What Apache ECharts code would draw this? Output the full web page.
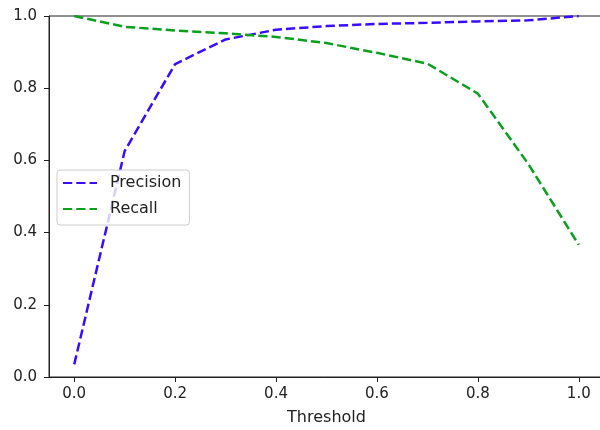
<!DOCTYPE html>
<html>
<head>
<meta charset="utf-8">
<script src="https://cdn.jsdelivr.net/npm/echarts@6/dist/echarts.min.js"></script>
<style>
  html, body { margin: 0; padding: 0; background: #fff; }
  #chart { width: 600px; height: 430px; }
</style>
</head>
<body>
<div id="chart"></div>
<script>
// Precision / recall as a function of the decision threshold
const thresholds = [0.0, 0.1, 0.2, 0.3, 0.4, 0.5, 0.6, 0.7, 0.8, 0.9, 1.0];
const precision  = [0.035, 0.626, 0.867, 0.935, 0.962, 0.972, 0.978, 0.981, 0.985, 0.988, 1.0];
const recall     = [1.0, 0.97, 0.96, 0.952, 0.942, 0.925, 0.898, 0.868, 0.785, 0.59, 0.366];
const xTicks = [0.0, 0.2, 0.4, 0.6, 0.8, 1.0];

const FONT = 'DejaVu Sans';
const dash = [9.25, 4];

const chart = echarts.init(document.getElementById('chart'), null, { renderer: 'canvas' });

chart.setOption({
  animation: false,
  backgroundColor: '#ffffff',
  // the plot box runs slightly past the right edge of the canvas
  grid: {
    left: 49, top: 16, width: 555, height: 361,
    outerBoundsMode: 'none',
    containLabel: false,
    show: true, borderColor: '#222', borderWidth: 1, backgroundColor: 'transparent'
  },
  legend: {
    orient: 'vertical',
    left: 57, top: 170,
    padding: [5, 8, 8, 5],
    itemWidth: 34, itemHeight: 14, itemGap: 10,
    backgroundColor: 'rgba(255,255,255,0.8)',
    borderColor: '#cccccc', borderWidth: 1, borderRadius: 3,
    itemStyle: { opacity: 0 },
    textStyle: { fontFamily: FONT, fontSize: 16, color: '#222', padding: [0, 0, 0, 8] },
    data: ['Precision', 'Recall']
  },
  xAxis: {
    type: 'value',
    min: -0.05, max: 1.05,
    name: 'Threshold', nameLocation: 'middle', nameGap: 33,
    nameTextStyle: { fontFamily: FONT, fontSize: 16, color: '#222' },
    axisLine: { show: true, onZero: false, lineStyle: { color: '#222', width: 1 } },
    axisTick: { show: true, customValues: xTicks, length: 5, lineStyle: { color: '#222', width: 1 } },
    axisLabel: {
      customValues: xTicks, margin: 10,
      fontFamily: FONT, fontSize: 15, color: '#222',
      formatter: v => Number(v).toFixed(1)
    },
    splitLine: { show: false }
  },
  yAxis: {
    type: 'value',
    min: 0, max: 1, interval: 0.2,
    axisLine: { show: true, onZero: false, lineStyle: { color: '#222', width: 1 } },
    axisTick: { show: true, length: 5, lineStyle: { color: '#222', width: 1 } },
    axisLabel: {
      margin: 12,
      fontFamily: FONT, fontSize: 15, color: '#222',
      formatter: v => Number(v).toFixed(1)
    },
    splitLine: { show: false }
  },
  series: [
    {
      name: 'Precision', type: 'line', symbol: 'none',
      data: thresholds.map((t, i) => [t, precision[i]]),
      lineStyle: { color: '#3a0cff', width: 2.5, type: dash },
      itemStyle: { color: '#3a0cff' }
    },
    {
      name: 'Recall', type: 'line', symbol: 'none',
      data: thresholds.map((t, i) => [t, recall[i]]),
      lineStyle: { color: '#0aa01e', width: 2.5, type: dash },
      itemStyle: { color: '#0aa01e' }
    }
  ]
});
</script>
</body>
</html>
